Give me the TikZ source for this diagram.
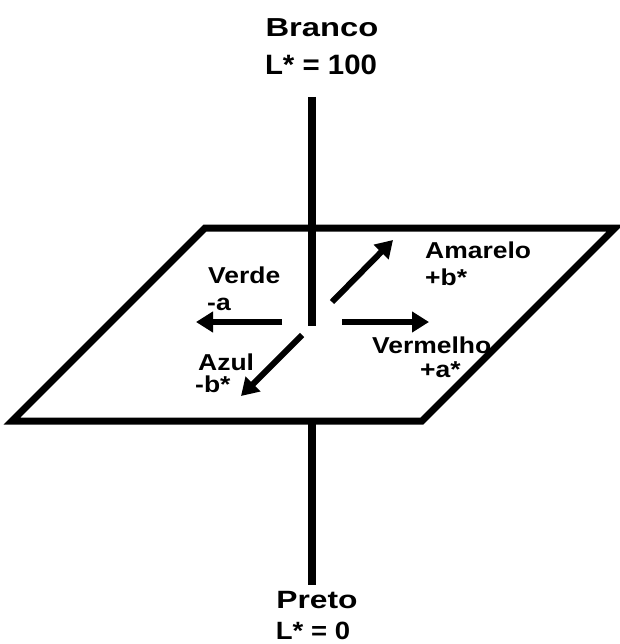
\documentclass[tikz,border=0pt]{standalone}
\usepackage{fontspec}
\setmainfont{Liberation Sans}
\usetikzlibrary{arrows.meta}

\begin{document}
\begin{tikzpicture}[x=1pt,y=-1pt,>={Triangle[length=17pt,width=20pt]},
  lbl/.style={font=\bfseries\fontsize{23}{23}\selectfont,inner sep=0pt,anchor=base west,xscale=1.15},
  ttl/.style={font=\bfseries\fontsize{26}{26}\selectfont,inner sep=0pt,anchor=base},
  dir/.style={->,line width=6pt}]
\useasboundingbox (0,0) rectangle (619,644);
% plane
\draw[line width=7pt,miter limit=20] (205,228) -- (615,228) -- (422,421) -- (12,421) -- cycle;
% L* axis
\node[ttl,xscale=1.26] (branco) at (322,37) {Branco};
\node[ttl,font=\bfseries\fontsize{28}{28}\selectfont,xscale=1.05] (lmax) at (321,75) {L* = 100};
\node[ttl,font=\bfseries\fontsize{25}{25}\selectfont,xscale=1.27] (preto) at (317,608) {Preto};
\node[ttl,font=\bfseries\fontsize{25}{25}\selectfont,xscale=1.1] (lmin) at (313,639) {L* = 0};
\coordinate (top) at (312,97);
\coordinate (mid) at (312,326);
\coordinate (low) at (312,421);
\coordinate (bot) at (312,585);
\draw[line width=8pt] (top) -- (mid);
\draw[line width=8pt] (low) -- (bot);
% a*, b* directions
\coordinate (v0) at (282,322); \coordinate (v1) at (196,322);
\coordinate (r0) at (342,322); \coordinate (r1) at (429,322);
\coordinate (y0) at (332,302); \coordinate (y1) at (393,240);
\coordinate (b0) at (302,335); \coordinate (b1) at (241,396);
\draw[dir] (v0) -- (v1);
\draw[dir] (r0) -- (r1);
\draw[dir] (y0) -- (y1);
\draw[dir] (b0) -- (b1);
\node[lbl] (verde) at (208,283) {Verde};
\node[lbl] (ma) at (207,310) {-a};
\node[lbl] (amarelo) at (425,258) {Amarelo};
\node[lbl] (pb) at (425,285) {+b*};
\node[lbl] (vermelho) at (372,353) {Vermelho};
\node[lbl] (pa) at (420,377) {+a*};
\node[lbl] (azul) at (198,370) {Azul};
\node[lbl] (mb) at (195,392) {-b*};
\end{tikzpicture}
\end{document}
